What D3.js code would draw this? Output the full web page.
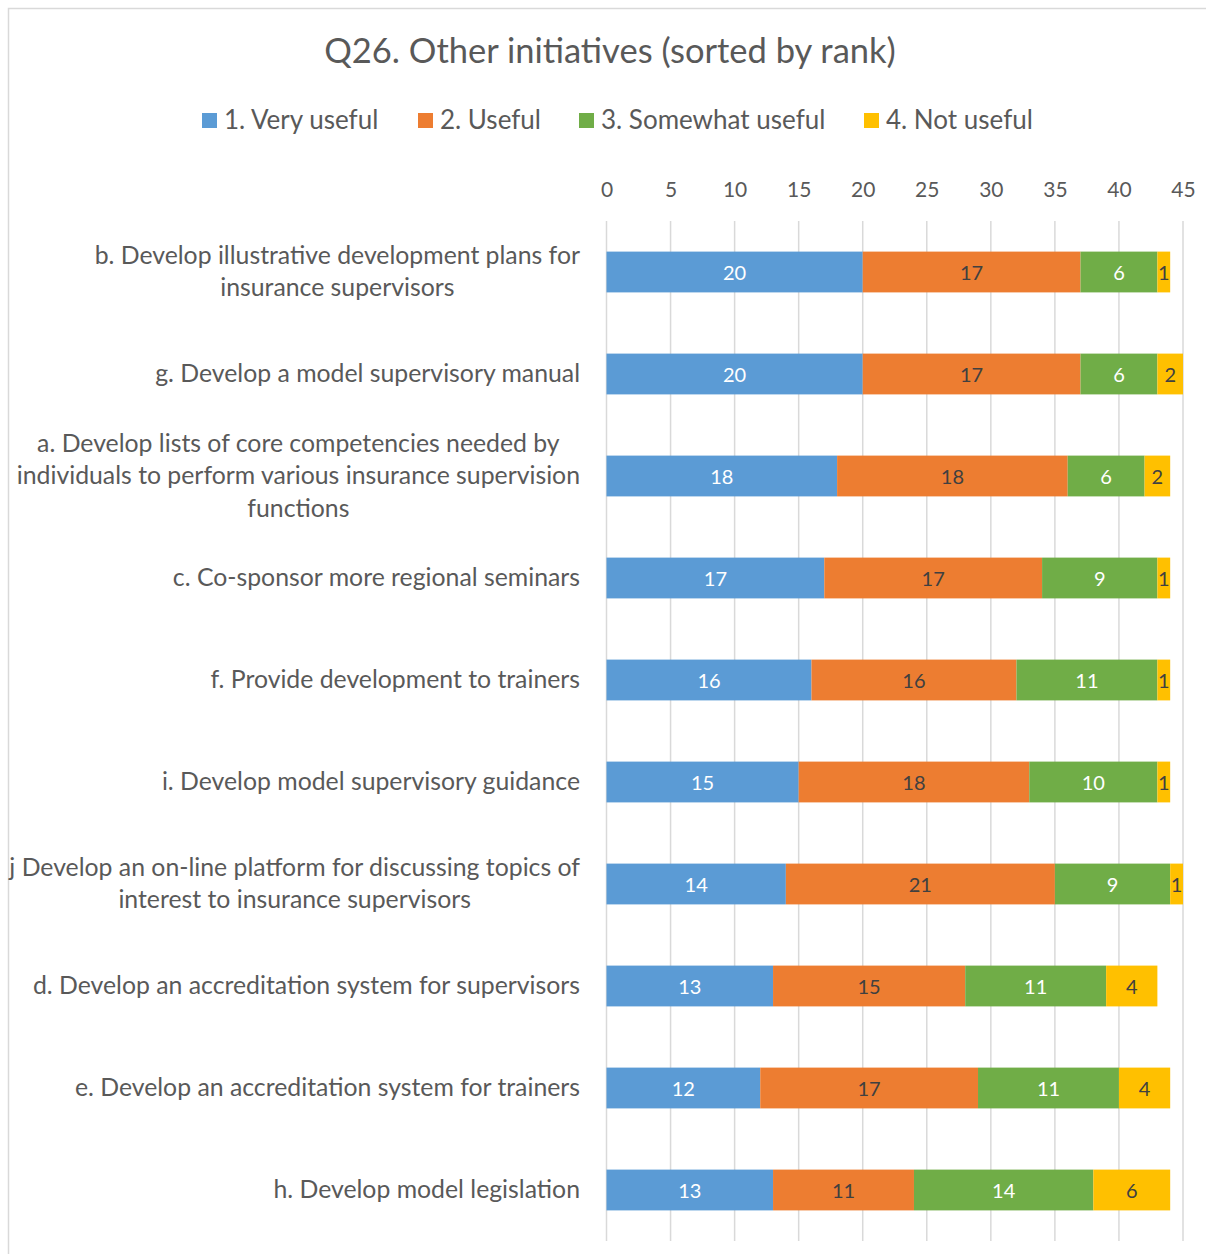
<!DOCTYPE html>
<html>
<head>
<meta charset="utf-8">
<script src="https://cdn.jsdelivr.net/npm/d3@7"></script>
<style>
  html, body { margin: 0; padding: 0; background: #fff; }
  svg { display: block; font-family: Lato, "Open Sans", sans-serif; }
</style>
</head>
<body>
<svg id="chart" width="1206" height="1254"></svg>
<script>
// Initiatives, top to bottom (each label split into its display lines)
const categories = [
  ["b. Develop illustrative development plans for", "insurance supervisors"],
  ["g. Develop a model supervisory manual"],
  ["a. Develop lists of core competencies needed by", "individuals to perform various insurance supervision", "functions"],
  ["c. Co-sponsor more regional seminars"],
  ["f. Provide development to trainers"],
  ["i. Develop model supervisory guidance"],
  ["j Develop an on-line platform for discussing topics of", "interest to insurance supervisors"],
  ["d. Develop an accreditation system for supervisors"],
  ["e. Develop an accreditation system for trainers"],
  ["h. Develop model legislation"]
];
const seriesNames = ["1. Very useful", "2. Useful", "3. Somewhat useful", "4. Not useful"];
const veryUseful     = [20, 20, 18, 17, 16, 15, 14, 13, 12, 13];
const useful         = [17, 17, 18, 17, 16, 18, 21, 15, 17, 11];
const somewhatUseful = [6, 6, 6, 9, 11, 10, 9, 11, 11, 14];
const notUseful      = [1, 2, 2, 1, 1, 1, 1, 4, 4, 6];
const tickValues = [0, 5, 10, 15, 20, 25, 30, 35, 40, 45];

const colors = ["#5B9BD5", "#ED7D31", "#70AD47", "#FFC000"];
const labelColors = ["#ffffff", "#404040", "#ffffff", "#404040"];

const svg = d3.select("#chart");

// Outer chart frame
svg.append("rect")
  .attr("x", 8.5).attr("y", 8.5)
  .attr("width", 1210).attr("height", 1270)
  .attr("fill", "none").attr("stroke", "#d9d9d9").attr("stroke-width", 1.5);

// Title
svg.append("text")
  .attr("x", 610).attr("y", 54)
  .attr("text-anchor", "middle").attr("dominant-baseline", "middle")
  .attr("fill", "#595959").attr("font-size", 34.5)
  .text("Q26. Other initiatives (sorted by rank)");

// Legend
const legendX = [202, 418, 579, 864];
const legend = svg.append("g");
seriesNames.forEach((name, i) => {
  legend.append("rect")
    .attr("x", legendX[i]).attr("y", 113)
    .attr("width", 15).attr("height", 15)
    .attr("fill", colors[i]);
  legend.append("text")
    .attr("x", legendX[i] + 22).attr("y", 122)
    .attr("dominant-baseline", "middle")
    .attr("fill", "#595959").attr("font-size", 26)
    .text(name);
});

// Scales
const x = d3.scaleLinear().domain([0, 45]).range([606.5, 1183]);
const y = d3.scaleBand().domain(d3.range(categories.length)).range([221, 1241]).paddingInner(0.6).paddingOuter(0.3);

// Gridlines
svg.append("g")
  .selectAll("line")
  .data(tickValues)
  .join("line")
  .attr("x1", d => x(d)).attr("x2", d => x(d))
  .attr("y1", 221).attr("y2", 1241)
  .attr("stroke", "#d9d9d9").attr("stroke-width", 1.5);

// Top axis labels
const axis = d3.axisTop(x).tickValues(tickValues).tickSize(0).tickPadding(0);
const axisG = svg.append("g").attr("transform", "translate(0,190)").call(axis);
axisG.select(".domain").remove();
axisG.selectAll("text")
  .attr("font-family", "Lato, 'Open Sans', sans-serif")
  .attr("font-size", 21).attr("fill", "#595959")
  .attr("dy", "0.35em");

// Stack the series
const rows = categories.map((c, i) => ({
  i, v0: veryUseful[i], v1: useful[i], v2: somewhatUseful[i], v3: notUseful[i]
}));
const stack = d3.stack().keys(["v0", "v1", "v2", "v3"]);
const stacked = stack(rows);

const barG = svg.append("g");
stacked.forEach((layer, k) => {
  const g = barG.append("g");
  g.selectAll("rect")
    .data(layer)
    .join("rect")
    .attr("x", d => x(d[0]))
    .attr("y", d => y(d.data.i))
    .attr("width", d => x(d[1]) - x(d[0]))
    .attr("height", y.bandwidth())
    .attr("fill", colors[k]);
  g.selectAll("text")
    .data(layer)
    .join("text")
    .attr("x", d => (x(d[0]) + x(d[1])) / 2)
    .attr("y", d => y(d.data.i) + y.bandwidth() / 2)
    .attr("text-anchor", "middle").attr("dominant-baseline", "central")
    .attr("fill", labelColors[k]).attr("font-size", 20)
    .text(d => d[1] - d[0]);
});

// Category labels: block right-aligned to the plot, lines centred in the block
const labelG = svg.append("g");
const lineH = 32.5;
categories.forEach((lines, i) => {
  const cy = y(i) + y.bandwidth() / 2 - 1.5;
  const g = labelG.append("g");
  const texts = lines.map((ln, j) => g.append("text")
    .attr("y", cy + (j - (lines.length - 1) / 2) * lineH)
    .attr("dominant-baseline", "central")
    .attr("text-anchor", "middle")
    .attr("fill", "#595959").attr("font-size", 24.8)
    .text(ln));
  const maxW = d3.max(texts, t => t.node().getComputedTextLength());
  texts.forEach(t => t.attr("x", 580 - maxW / 2));
});
</script>
</body>
</html>
